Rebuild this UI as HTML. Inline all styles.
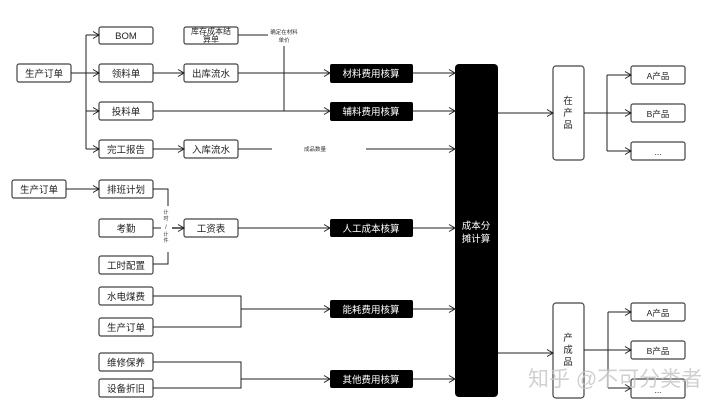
<!DOCTYPE html>
<html><head><meta charset="utf-8"><style>
html,body{margin:0;padding:0;background:#fff;}
svg{display:block;font-family:"Liberation Sans","Noto Sans CJK SC",sans-serif;}
</style></head><body>
<svg width="720" height="408" viewBox="0 0 720 408" xmlns="http://www.w3.org/2000/svg">
<defs>
<marker id="a" markerWidth="8" markerHeight="8" refX="7" refY="4" orient="auto" markerUnits="userSpaceOnUse">
<path d="M1,0.5 L7,4 L1,7.5" fill="none" stroke="#222" stroke-width="1"/>
</marker>
</defs>
<g fill="#fff" stroke="#444" stroke-width="1.2">
<rect x="17" y="64" width="54" height="18" rx="2"/>
<rect x="99" y="27" width="54" height="17" rx="2"/>
<rect x="184" y="27" width="54" height="17" rx="2"/>
<rect x="99" y="64" width="54" height="18" rx="2"/>
<rect x="184" y="64" width="54" height="18" rx="2"/>
<rect x="99" y="102" width="54" height="18" rx="2"/>
<rect x="99" y="140" width="54" height="18" rx="2"/>
<rect x="184" y="140" width="54" height="18" rx="2"/>
<rect x="12" y="180" width="54" height="18" rx="2"/>
<rect x="99" y="180" width="54" height="18" rx="2"/>
<rect x="99" y="219" width="54" height="18" rx="2"/>
<rect x="184" y="219" width="54" height="18" rx="2"/>
<rect x="99" y="256" width="54" height="18" rx="2"/>
<rect x="99" y="287" width="54" height="18" rx="2"/>
<rect x="99" y="318" width="54" height="18" rx="2"/>
<rect x="99" y="353" width="54" height="18" rx="2"/>
<rect x="99" y="379" width="54" height="18" rx="2"/>
<rect x="553" y="66" width="31" height="94" rx="3"/>
<rect x="553" y="303" width="31" height="95" rx="3"/>
<rect x="631" y="66" width="54" height="18" rx="2"/>
<rect x="631" y="104" width="54" height="18" rx="2"/>
<rect x="631" y="142" width="54" height="18" rx="2"/>
<rect x="631" y="303" width="54" height="18" rx="2"/>
<rect x="631" y="341" width="54" height="18" rx="2"/>
<rect x="631" y="379" width="54" height="19" rx="2"/>
</g>
<g fill="#000">
<rect x="330" y="64" width="83" height="19" rx="2"/>
<rect x="330" y="102" width="83" height="19" rx="2"/>
<rect x="330" y="219" width="83" height="18" rx="2"/>
<rect x="330" y="300" width="83" height="18" rx="2"/>
<rect x="330" y="370" width="83" height="18" rx="2"/>
<rect x="455" y="64" width="43" height="333" rx="4"/>
</g>
<g fill="none" stroke="#222" stroke-width="1">
<path d="M71,73 H86 M86,35 V149"/>
<path d="M86,35 H99" marker-end="url(#a)"/>
<path d="M86,73 H99" marker-end="url(#a)"/>
<path d="M86,111 H99" marker-end="url(#a)"/>
<path d="M86,149 H99" marker-end="url(#a)"/>
<path d="M153,73 H184" marker-end="url(#a)"/>
<path d="M153,149 H184" marker-end="url(#a)"/>
<path d="M238,35 H268"/>
<path d="M284,46 V111"/>
<path d="M238,73 H330" marker-end="url(#a)"/>
<path d="M153,111 H330" marker-end="url(#a)"/>
<path d="M238,149 H272"/>
<path d="M366,149 H455" marker-end="url(#a)"/>
<path d="M413,73 H455" marker-end="url(#a)"/>
<path d="M413,111 H455" marker-end="url(#a)"/>
<path d="M413,228 H455" marker-end="url(#a)"/>
<path d="M413,309 H455" marker-end="url(#a)"/>
<path d="M413,379 H455" marker-end="url(#a)"/>
<path d="M66,189 H99" marker-end="url(#a)"/>
<path d="M153,189 H168 V206 M168,252 V264 H153"/>
<path d="M153,228 H161"/>
<path d="M172,228 H184" marker-end="url(#a)" stroke-width="1.4"/>
<path d="M238,228 H330" marker-end="url(#a)"/>
<path d="M153,296 H241 V327 H153 M241,309 H330" />
<path d="M241,309 H330" marker-end="url(#a)"/>
<path d="M153,362 H241 V388 H153"/>
<path d="M241,379 H330" marker-end="url(#a)"/>
<path d="M498,113 H553" marker-end="url(#a)"/>
<path d="M498,353 H553" marker-end="url(#a)"/>
<path d="M584,113 H607 M607,75 V151"/>
<path d="M607,75 H631" marker-end="url(#a)"/>
<path d="M607,113 H631" marker-end="url(#a)"/>
<path d="M607,151 H631" marker-end="url(#a)"/>
<path d="M584,350 H608 M608,312 V388"/>
<path d="M608,312 H631" marker-end="url(#a)"/>
<path d="M608,350 H631" marker-end="url(#a)"/>
<path d="M608,388 H631" marker-end="url(#a)"/>
</g>
<g font-size="9.5" fill="#222" text-anchor="middle">
<text x="44" y="77">生产订单</text>
<text x="126" y="39">BOM</text>
<text x="211" y="34" font-size="8">库存成本结</text>
<text x="211" y="42" font-size="8">算单</text>
<text x="126" y="77">领料单</text>
<text x="211" y="77">出库流水</text>
<text x="126" y="115">投料单</text>
<text x="126" y="153">完工报告</text>
<text x="211" y="153">入库流水</text>
<text x="39" y="193">生产订单</text>
<text x="126" y="193">排班计划</text>
<text x="126" y="232">考勤</text>
<text x="211" y="232">工资表</text>
<text x="126" y="269">工时配置</text>
<text x="126" y="300">水电煤费</text>
<text x="126" y="331">生产订单</text>
<text x="126" y="366">维修保养</text>
<text x="126" y="392">设备折旧</text>
<text x="658" y="79" font-size="8.5">A产品</text>
<text x="658" y="117" font-size="8.5">B产品</text>
<text x="658" y="155" font-size="8.5">...</text>
<text x="658" y="316" font-size="8.5">A产品</text>
<text x="658" y="354" font-size="8.5">B产品</text>
<text x="658" y="393" font-size="8.5">...</text>
<text x="568" y="104">在</text>
<text x="568" y="116">产</text>
<text x="568" y="128">品</text>
<text x="568" y="341">产</text>
<text x="568" y="353">成</text>
<text x="568" y="365">品</text>
</g>
<g font-size="5.5" fill="#333" text-anchor="middle">
<text x="284" y="34">确定在材料</text>
<text x="284" y="42">单价</text>
<text x="315" y="151">成品数量</text>
<text x="166" y="214" font-size="5">计</text>
<text x="166" y="220" font-size="5">时</text>
<text x="166" y="229" font-size="6">/</text>
<text x="166" y="236" font-size="5">计</text>
<text x="166" y="242" font-size="5">件</text>
</g>
<g font-size="9.5" fill="#fff" text-anchor="middle">
<text x="371" y="77">材料费用核算</text>
<text x="371" y="115">辅料费用核算</text>
<text x="371" y="232">人工成本核算</text>
<text x="371" y="313">能耗费用核算</text>
<text x="371" y="383">其他费用核算</text>
<text x="476" y="229">成本分</text>
<text x="476" y="242">摊计算</text>
</g>
<text x="528" y="386" font-size="21" fill="#c8c8c8" fill-opacity="0.85">知乎 @不可分类者</text>
</svg>
</body></html>
